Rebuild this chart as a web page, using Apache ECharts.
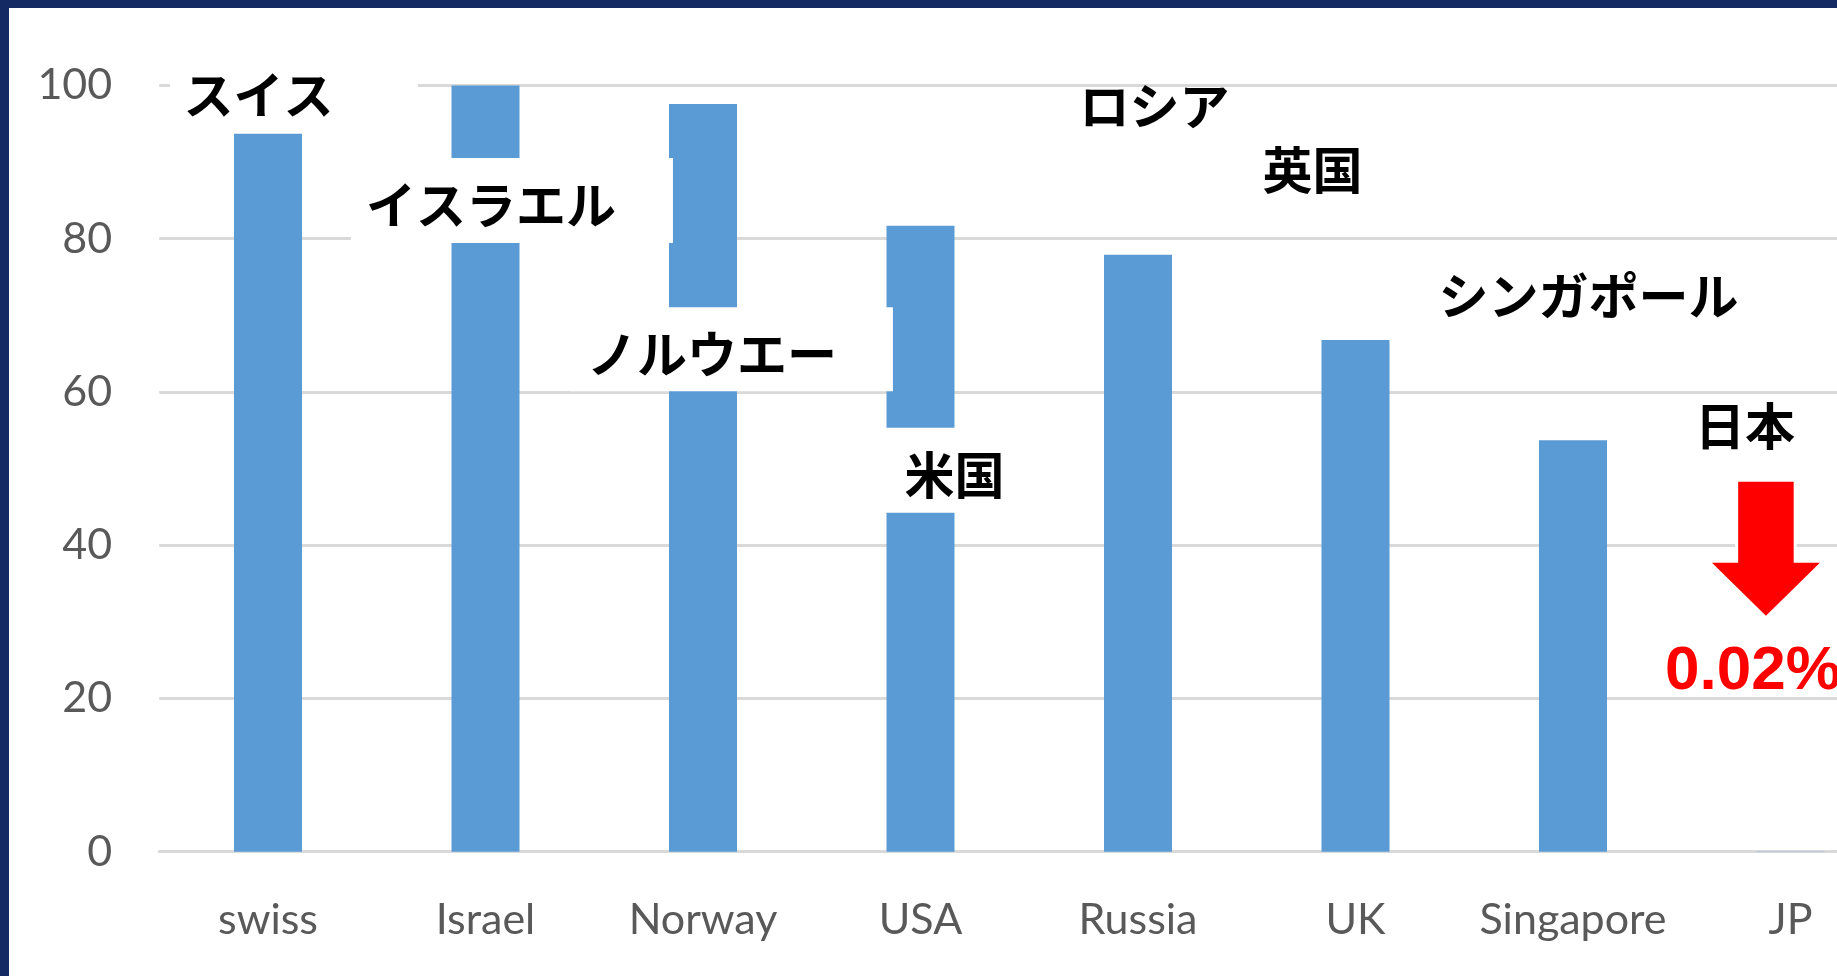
<!DOCTYPE html>
<html><head><meta charset="utf-8">
<script src="https://cdn.jsdelivr.net/npm/echarts@6/dist/echarts.min.js"></script>
<style>html,body{margin:0;padding:0;background:#fff;overflow:hidden}#c{width:1837px;height:976px}</style>
</head><body><div id="c"></div>
<script>
// ---- data ----
const categories = ['swiss', 'Israel', 'Norway', 'USA', 'Russia', 'UK', 'Singapore', 'JP'];
const jpNames = ['スイス', 'イスラエル', 'ノルウエー', '米国', 'ロシア', '英国', 'シンガポール', '日本'];
const values = [100, 100, 97.6, 81.7, 77.9, 66.8, 53.7, 0.02];
const yTicks = [0, 20, 40, 60, 80, 100];

// ---- annotation layout (category units, axis value) ----
const nameAnchor = [[-0.044, 98.8], [1.025, 84.4], [2.041, 65.0], [3.156, 49.2], [4.076, 97.3], [4.802, 89.0], [6.071, 72.5], [6.791, 55.5]];
// white text-box extents around each name, px offsets [left, right, top, bottom]
const nameBox = [[-88.5, 159.5, -46, 39], [-140, 182, -47, 38], [-142, 181, -46.5, 37.5], [-72.5, 110.5, -47, 38], null, null, null, null];
const arrowLayout = { x: 6.887, top: 48.3, tip: 30.8, shaftHalf: 27.75, headHalf: 54, headLen: 53 };
const jpLabelPos = [6.423, 23.5];

const chart = echarts.init(document.getElementById('c'), null, { renderer: 'canvas' });
const axisFont = 'Lato';
chart.setOption({
  backgroundColor: '#ffffff',
  animation: false,
  grid: { left: 159.25, right: -62.25, top: 85.5, bottom: 124.3, containLabel: false, outerBoundsMode: 'none' },
  xAxis: [{
    type: 'category', data: categories,
    axisLine: { show: true, lineStyle: { color: '#d9d9d9', width: 3 } },
    axisTick: { show: false },
    axisLabel: { interval: 0, margin: 47, color: '#595959', fontFamily: axisFont, fontSize: 43 },
    splitLine: { show: false }
  }, {
    type: 'value', min: -0.5, max: categories.length - 0.5, show: false
  }],
  yAxis: {
    type: 'value', min: yTicks[0], max: yTicks[yTicks.length - 1], interval: yTicks[1] - yTicks[0],
    axisLine: { show: false }, axisTick: { show: false },
    axisLabel: { margin: 47, color: '#595959', fontFamily: axisFont, fontSize: 43 },
    splitLine: { lineStyle: { color: '#d9d9d9', width: 3 } }
  },
  series: [{
    type: 'bar', data: values, xAxisIndex: 0, barWidth: 68,
    itemStyle: { color: '#5b9bd5' }, z: 2
  }, {
    type: 'custom', xAxisIndex: 1, yAxisIndex: 0, z: 5, clip: false,
    data: jpNames.map((n, i) => [nameAnchor[i][0], nameAnchor[i][1], i]),
    renderItem: function (params, api) {
      const i = api.value(2);
      const p = api.coord([api.value(0), api.value(1)]);
      const children = [];
      const b = nameBox[i];
      if (b) children.push({ type: 'rect', shape: { x: p[0] + b[0], y: p[1] + b[2], width: b[1] - b[0], height: b[3] - b[2] }, style: { fill: '#ffffff' } });
      children.push({ type: 'text', x: p[0], y: p[1], style: { text: jpNames[i], fontFamily: 'Noto Sans CJK JP', fontWeight: 'bold', fontSize: 50, fill: '#000000', align: 'center', verticalAlign: 'middle' } });
      return { type: 'group', children: children };
    }
  }, {
    type: 'custom', xAxisIndex: 1, yAxisIndex: 0, z: 6, clip: false,
    data: [[arrowLayout.x, arrowLayout.top, arrowLayout.tip, jpLabelPos[0], jpLabelPos[1]]],
    renderItem: function (params, api) {
      const L = arrowLayout;
      const top = api.coord([api.value(0), api.value(1)]);
      const tip = api.coord([api.value(0), api.value(2)]);
      const lp = api.coord([api.value(3), api.value(4)]);
      const x = top[0], neck = tip[1] - L.headLen;
      return { type: 'group', children: [
        { type: 'polygon', shape: { points: [[x - L.shaftHalf, top[1]], [x + L.shaftHalf, top[1]], [x + L.shaftHalf, neck], [x + L.headHalf, neck], [x, tip[1]], [x - L.headHalf, neck], [x - L.shaftHalf, neck]] },
          style: { fill: '#ff0000', stroke: '#ffffff', lineWidth: 6, strokeFirst: true } },
        { type: 'text', x: lp[0], y: lp[1], style: { text: values[values.length - 1] + '%', fontFamily: 'Liberation Sans', fontWeight: 'bold', fontSize: 62, fill: '#ff0000', align: 'left', verticalAlign: 'middle' } }
      ] };
    }
  }],
  graphic: [
    { type: 'rect', z: 100, shape: { x: 0, y: 0, width: 1837, height: 8 }, style: { fill: '#132a63' } },
    { type: 'rect', z: 100, shape: { x: 0, y: 0, width: 9, height: 976 }, style: { fill: '#132a63' } }
  ]
});
</script></body></html>
